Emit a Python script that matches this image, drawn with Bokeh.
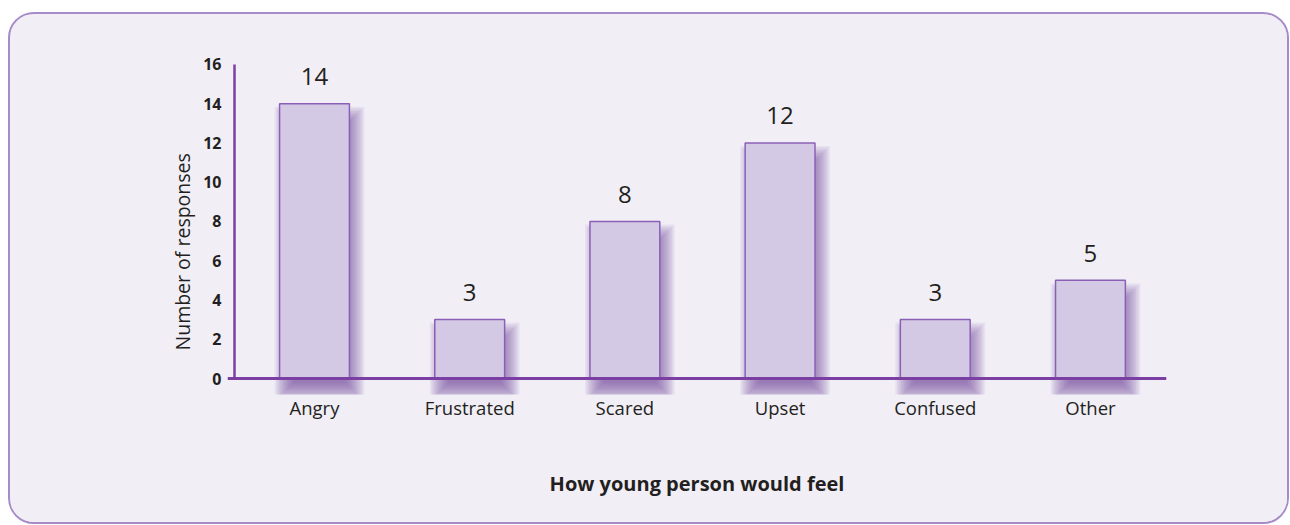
from bokeh.plotting import figure
from bokeh.models import Range1d, FixedTicker, Span, Title
from bokeh.core.properties import value
from bokeh.embed import file_html
from bokeh.resources import INLINE

categories = ["Angry", "Frustrated", "Scared", "Upset", "Confused", "Other"]
responses = [14, 3, 8, 12, 3, 5]
y_ticks = [0, 2, 4, 6, 8, 10, 12, 14, 16]
x_title = "How young person would feel"
y_title = "Number of responses"

FONT = "Open Sans"
TXT = "#231f20"
AXIS = "#7b3fa4"
BG = "#f1eef6"

W, H = 1281, 512
ML, MR, MT, MB = 217, 125, 46, 132
x0, x1 = -0.5606, 5.49
y0, y1 = -0.815, 16.2
fw, fh = W - ML - MR, H - MT - MB
pxx = fw / (x1 - x0)
pxy = fh / (y1 - y0)

p = figure(width=W, height=H, output_backend="svg", toolbar_location=None,
           x_range=Range1d(x0, x1), y_range=Range1d(y0, y1),
           min_border_left=ML, min_border_right=MR, min_border_top=MT, min_border_bottom=MB)
p.styles = {"border": "2px solid #a68bc9", "border-radius": "26px", "overflow": "hidden",
            "margin-top": "12px", "margin-left": "8px", "background-color": BG}
p.background_fill_color = None
p.border_fill_color = BG
p.outline_line_color = None
p.grid.grid_line_color = None

xs = list(range(len(categories)))
bw = 0.45

# soft drop shadow, derived from the data
dx, dy, blur, N = 5, 13, 10, 14
for k in range(N):
    e = blur - k * (2 * blur / N)
    p.quad(left=[x - bw / 2 + (dx - e) / pxx for x in xs],
           right=[x + bw / 2 + (dx + e) / pxx for x in xs],
           top=[v - (dy - e) / pxy for v in responses],
           bottom=[0 - (dy + e) / pxy for _ in responses],
           fill_color="#6a3d9a", fill_alpha=0.068, line_color=None)

p.vbar(x=xs, top=responses, bottom=0, width=bw, fill_color="#d4c9e4",
       line_color="#8a60b6", line_width=1.5)

p.text(x=xs, y=responses, text=[str(v) for v in responses], text_align="center",
       text_baseline="alphabetic", y_offset=-27, text_font=value(FONT),
       text_font_size="24px", text_color=TXT)

p.add_layout(Span(location=0, dimension="width", line_color=AXIS, line_width=3))
p.segment(x0=[x0 + 7 / pxx], y0=[0], x1=[x0 + 7 / pxx], y1=[y_ticks[-1]],
          line_color=AXIS, line_width=2.5)

p.xaxis.ticker = FixedTicker(ticks=xs)
p.xaxis.major_label_overrides = {i: c for i, c in enumerate(categories)}
p.yaxis.ticker = FixedTicker(ticks=y_ticks)
for ax in (p.xaxis, p.yaxis):
    ax.axis_line_color = None
    ax.major_tick_line_color = None
    ax.minor_tick_line_color = None
    ax.major_tick_out = 0
    ax.major_tick_in = 0
    ax.minor_tick_out = 0
    ax.minor_tick_in = 0
    ax.major_label_text_font = FONT
    ax.major_label_text_color = TXT
p.xaxis.major_label_text_font_size = "18.5px"
p.xaxis.major_label_standoff = 0
p.yaxis.major_label_text_font_size = "16px"
p.yaxis.major_label_text_font_style = "bold"
p.yaxis.major_label_standoff = 6

p.xaxis.axis_label = x_title
p.xaxis.axis_label_text_font = FONT
p.xaxis.axis_label_text_font_size = "20px"
p.xaxis.axis_label_text_font_style = "bold"
p.xaxis.axis_label_text_color = TXT
p.xaxis.axis_label_standoff = 47

p.add_layout(Title(text=y_title, align="left", offset=44, text_font=FONT,
                   text_font_size="19.5px", text_font_style="normal", text_color=TXT,
                   standoff=10), "left")

open("out.html", "w").write(file_html(p, INLINE))
